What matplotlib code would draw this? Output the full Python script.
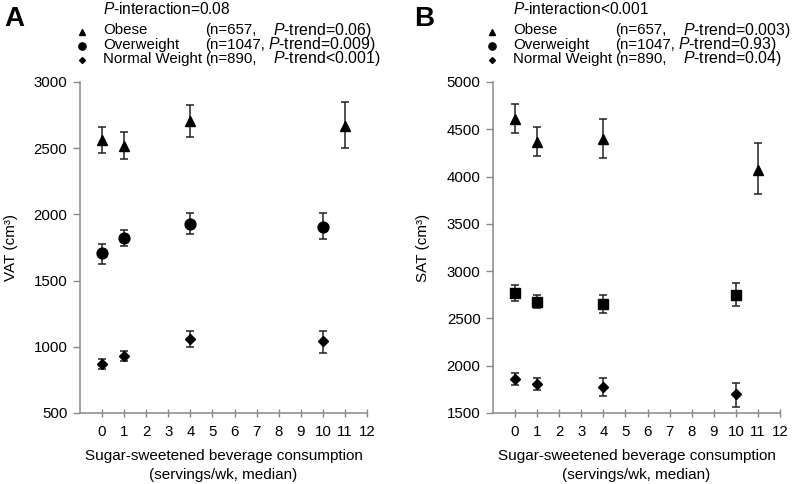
import matplotlib
matplotlib.use("Agg")
import matplotlib.pyplot as plt
from matplotlib.lines import Line2D

plt.rcParams['font.family'] = ['Liberation Sans', 'DejaVu Sans']
plt.rcParams['mathtext.fontset'] = 'custom'
plt.rcParams['mathtext.it'] = 'Liberation Sans:italic'
plt.rcParams['mathtext.rm'] = 'Liberation Sans'

# ---- data ----
x_obese = [0, 1, 4, 11]
x_other = [0, 1, 4, 10]

vat_obese = [2560, 2520, 2705, 2670]
vat_obese_lo = [2462, 2420, 2582, 2502]
vat_obese_hi = [2662, 2620, 2830, 2850]
vat_over = [1707, 1818, 1928, 1908]
vat_over_lo = [1628, 1758, 1850, 1813]
vat_over_hi = [1778, 1880, 2013, 2013]
vat_norm = [870, 931, 1060, 1043]
vat_norm_lo = [830, 895, 1000, 951]
vat_norm_hi = [908, 965, 1122, 1122]

sat_obese = [4610, 4368, 4395, 4073]
sat_obese_lo = [4460, 4213, 4200, 3815]
sat_obese_hi = [4770, 4525, 4605, 4350]
sat_over = [2767, 2677, 2656, 2750]
sat_over_lo = [2687, 2611, 2558, 2628]
sat_over_hi = [2854, 2746, 2750, 2878]
sat_norm = [1860, 1808, 1780, 1696]
sat_norm_lo = [1801, 1745, 1682, 1567]
sat_norm_hi = [1919, 1867, 1871, 1818]

xtick_vals = list(range(0, 13))
xtick_labels = [str(v) for v in xtick_vals]

W, H = 795, 484
fig = plt.figure(figsize=(W / 100, H / 100), dpi=100)


def fx(x):
    return x / W


def fy(y):
    return 1 - y / H


FS = 10.8
ECOL = '#222222'
SPINE = '#8a8a8a'


def panel(left, ylim, yticks, ylabel, series, lab_x):
    ax = fig.add_axes([fx(left), fy(413), fx(287), 331 / H])
    for xs, v, lo, hi, mk, ms in series:
        yerr = [[a - b for a, b in zip(v, lo)], [b - a for a, b in zip(v, hi)]]
        ax.errorbar(xs, v, yerr=yerr, fmt=mk, ms=ms, color='black',
                    ecolor=ECOL, elinewidth=1.1, capsize=3, capthick=1.1,
                    clip_on=False)
    ax.set_xlim(-1, 12)
    ax.set_ylim(*ylim)
    ax.set_xticks(xtick_vals)
    ax.set_xticklabels(xtick_labels, fontsize=FS)
    ax.set_yticks(yticks)
    ax.tick_params(axis='y', labelsize=FS, length=5, color=SPINE, width=1, pad=4)
    ax.tick_params(axis='x', labelsize=FS, length=6, direction='inout',
                   color=SPINE, width=1, pad=6)
    for s in ['top', 'right']:
        ax.spines[s].set_visible(False)
    for s in ['left', 'bottom']:
        ax.spines[s].set_color(SPINE)
        ax.spines[s].set_linewidth(1.1)
    ax.set_xlabel('Sugar-sweetened beverage consumption\n(servings/wk, median)',
                  fontsize=11, labelpad=7, linespacing=1.4)
    ax.set_ylabel(ylabel, fontsize=11)
    ax.yaxis.set_label_coords((lab_x - left) / 287, 0.5)
    return ax


panel(80, (500, 3000), list(range(500, 3001, 500)), 'VAT (cm³)', [
    (x_obese, vat_obese, vat_obese_lo, vat_obese_hi, '^', 7.5),
    (x_other, vat_over, vat_over_lo, vat_over_hi, 'o', 7.8),
    (x_other, vat_norm, vat_norm_lo, vat_norm_hi, 'D', 5),
], 18)
panel(493, (1500, 5000), list(range(1500, 5001, 500)), 'SAT (cm³)', [
    (x_obese, sat_obese, sat_obese_lo, sat_obese_hi, '^', 7.5),
    (x_other, sat_over, sat_over_lo, sat_over_hi, 's', 6.8),
    (x_other, sat_norm, sat_norm_lo, sat_norm_hi, 'D', 5),
], 430)


# ---- header texts ----
def header(letter, lx, tx, mx, nx, ptx, pinter, trends):
    fig.text(fx(lx), fy(19), letter, fontsize=20, fontweight='bold',
             ha='left', va='center')
    fig.text(fx(tx), fy(9), pinter, fontsize=11.2, ha='left', va='center')
    rows = [('^', 4.2, 'Obese', '(n=657,'),
            ('o', 5.2, 'Overweight', '(n=1047,'),
            ('D', 3, 'Normal Weight', '(n=890,')]
    ys = [30, 44.5, 58.5]
    for (mk, ms, name, n), y, ptxx, tr in zip(rows, ys, ptx, trends):
        fig.add_artist(Line2D([fx(mx)], [fy(y + 1.5)], marker=mk, ms=ms,
                              color='black', linestyle='none',
                              transform=fig.transFigure))
        fig.text(fx(tx), fy(y), name, fontsize=10.8, ha='left', va='center')
        fig.text(fx(nx), fy(y), n, fontsize=10.8, ha='left', va='center')
        fig.text(fx(ptxx), fy(y), r'$\mathit{P}$' + tr, fontsize=11.4,
                 ha='left', va='center')


header('A', 4, 103, 82, 205, [273, 268, 273], r'$\mathit{P}$-interaction=0.08',
       ['-trend=0.06)', '-trend=0.009)', '-trend<0.001)'])
header('B', 414, 513, 492, 615, [683, 678, 683], r'$\mathit{P}$-interaction<0.001',
       ['-trend=0.003)', '-trend=0.93)', '-trend=0.04)'])

fig.savefig('out.png', dpi=100)
